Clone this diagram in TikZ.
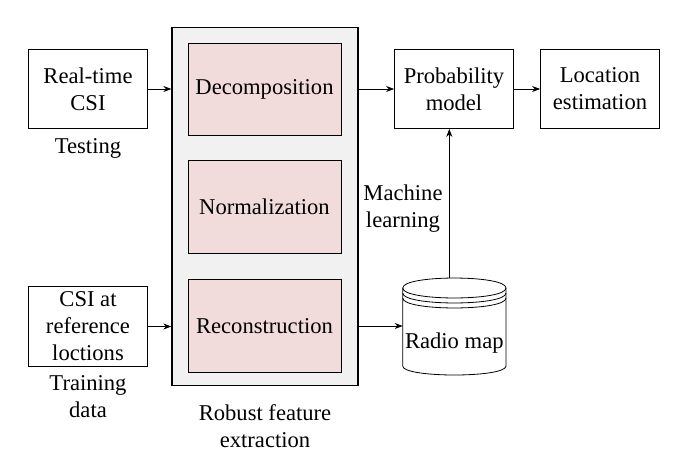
\documentclass[tikz,border=0pt]{standalone}
\usepackage{fontspec}
\setmainfont{Liberation Serif}
\usetikzlibrary{arrows.meta}
\definecolor{panelgray}{RGB}{241,241,241}
\definecolor{pinkbox}{RGB}{242,220,219}
\tikzset{
  x=1pt,y=-1pt,
  txt/.style={align=center,font=\fontsize{22.6}{27}\selectfont,inner sep=0pt},
  plain/.style={txt,draw=black,line width=0.8pt,fill=white,minimum width=119,minimum height=79},
  pinkb/.style={txt,draw=black,line width=0.8pt,fill=pinkbox,minimum width=153,minimum height=92.5},
  conn/.style={draw=black,line width=0.8pt,-{Stealth[length=8pt,width=6pt]}},
  cyl/.style={draw=black,line width=0.8pt},
}
\begin{document}
\begin{tikzpicture}
\useasboundingbox (0,0) rectangle (683,469);
\fill[white] (0,0) rectangle (683,469);
\node[draw=black,line width=1.3pt,fill=panelgray,minimum width=186,minimum height=357.5,inner sep=0pt] (panel) at (265,206.5) {};
\node[pinkb] (dec) at (264.5,89.3) {\raisebox{-1.5pt}{Decomposition}};
\node[pinkb] (nor) at (264.5,207) {Normalization};
\node[pinkb] (rec) at (264.5,326) {Reconstruction};
\node[plain] (rt) at (88,89) {Real-time\\CSI};
\node[plain,minimum height=80] (csi) at (88,326.5) {CSI at\\reference\\loctions};
\node[plain] (pm) at (454,89) {Probability\\model};
\node[plain] (loc) at (600,89) {Location\\estimation};
\node[txt] (t1) at (88,148) {Testing};
\node[txt] (t2) at (88,396.5) {Training\\data};
\node[txt] (t3) at (265,426.5) {Robust feature\\extraction};
\node[txt] (t4) at (403,209) {Machine\\learning};
% cylinder
\coordinate (cylW) at (402.7,326);
\coordinate (cylTop) at (449.3,277.8);
\draw[cyl,fill=white] (402.7,288) .. controls (402.7,274.7) and (506,274.7) .. (506,288)
  -- (506,366) .. controls (506,378) and (402.7,378) .. (402.7,366) -- cycle;
\draw[cyl] (402.7,288) .. controls (402.7,301.3) and (506,301.3) .. (506,288);
\draw[cyl] (402.7,293) .. controls (402.7,306.3) and (506,306.3) .. (506,293);
\draw[cyl] (402.7,298) .. controls (402.7,311.3) and (506,311.3) .. (506,298);
\node[txt] (map) at (454.3,343) {Radio map};
\draw[conn] (rt.east) -- (rt.east -| panel.west);
\draw[conn] (csi.east) -- (csi.east -| panel.west);
\draw[conn] (panel.east |- pm.west) -- (pm.west);
\draw[conn] (pm.east) -- (loc.west);
\draw[conn] (panel.east |- rec.east) -- (cylW);
\draw[conn] (cylTop) -- (cylTop |- pm.south);
\end{tikzpicture}
\end{document}
